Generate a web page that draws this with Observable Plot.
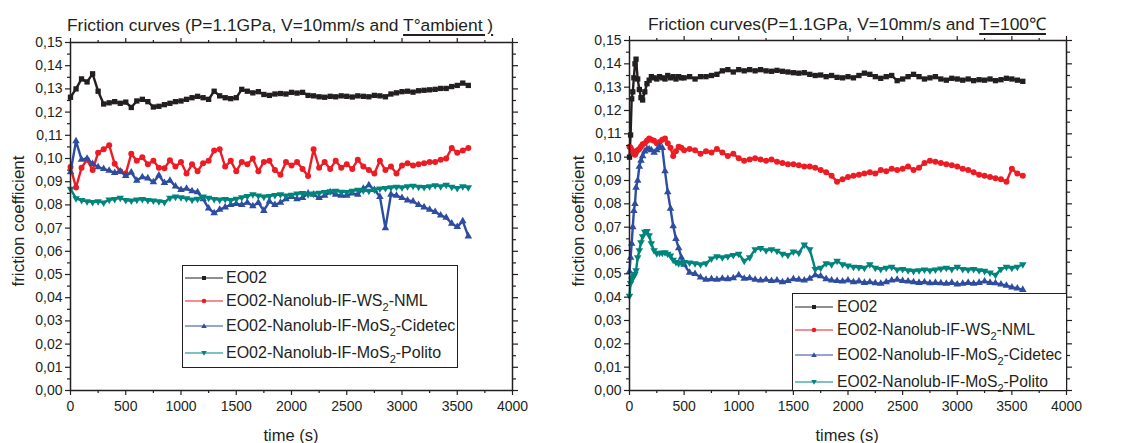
<!DOCTYPE html>
<html>
<head>
<meta charset="utf-8">
<script src="https://cdn.jsdelivr.net/npm/d3@7"></script>
<script src="https://cdn.jsdelivr.net/npm/@observablehq/plot@0.6"></script>
<style>
  html, body { margin: 0; padding: 0; background: #fff; }
  #root { position: relative; width: 1127px; height: 443px; overflow: hidden; font-family: 'Liberation Sans', Arial, sans-serif; color: #231f20; }
  .abs { position: absolute; white-space: nowrap; }
  .title { font-size: 17.4px; line-height: 20px; }
  .title u { text-decoration: underline; text-decoration-thickness: 1.5px; text-underline-offset: 3px; }
  .ylab { font-size: 17px; transform: rotate(-90deg); transform-origin: center center; }
  .xlab { font-size: 16.5px; }
  .legend { background: #fff; border: 1px solid #231f20; box-sizing: border-box; font-size: 16px; }
  .row { position: absolute; left: 0; display: flex; align-items: center; height: 20px; white-space: nowrap; }
  .row span { white-space: nowrap; }
  .row svg { display: block; flex: none; }
  .row sub { font-size: 11px; vertical-align: -5px; line-height: 0; }
</style>
</head>
<body>
<div id="root"></div>
<script>
// ---------- data ----------
const seriesNames = ["EO02", "EO02-Nanolub-IF-WS2-NML", "EO02-Nanolub-IF-MoS2-Cidetec", "EO02-Nanolub-IF-MoS2-Polito"];
const seriesColors = ["#231f20", "#ed1c24", "#2e4da0", "#00857d"];

const xTicks = [0, 500, 1000, 1500, 2000, 2500, 3000, 3500, 4000];
const xMinor = [250, 750, 1250, 1750, 2250, 2750, 3250, 3750];
const yTicks = [0, 0.01, 0.02, 0.03, 0.04, 0.05, 0.06, 0.07, 0.08, 0.09, 0.10, 0.11, 0.12, 0.13, 0.14, 0.15];
const yMinor = [0.005, 0.015, 0.025, 0.035, 0.045, 0.055, 0.065, 0.075, 0.085, 0.095, 0.105, 0.115, 0.125, 0.135, 0.145];

// Left panel (T ambient)
const timeL = [0,50,100,150,200,250,300,350,400,450,
  500,550,600,650,700,750,800,850,900,950,
  1000,1050,1100,1150,1200,1250,1300,1350,1400,1450,
  1500,1550,1600,1650,1700,1750,1800,1850,1900,1950,
  2000,2050,2100,2150,2200,2250,2300,2350,2400,2450,
  2500,2550,2600,2650,2700,2750,2800,2850,2900,2950,
  3000,3050,3100,3150,3200,3250,3300,3350,3400,3450,
  3500,3550,3600];
const blackL = [0.1264,0.1300,0.1343,0.1330,0.1365,0.1290,0.1235,0.1240,0.1245,0.1238,
  0.1243,0.1220,0.1248,0.1255,0.1245,0.1222,0.1225,0.1232,0.1238,0.1245,
  0.1248,0.1255,0.1262,0.1268,0.1262,0.1255,0.1290,0.1270,0.1262,0.1258,
  0.1262,0.1298,0.1290,0.1283,0.1288,0.1276,0.1272,0.1278,0.1280,0.1278,
  0.1285,0.1282,0.1285,0.1272,0.1270,0.1266,0.1264,0.1268,0.1266,0.1270,
  0.1268,0.1265,0.1270,0.1268,0.1266,0.1272,0.1270,0.1266,0.1278,0.1283,
  0.1288,0.1290,0.1286,0.1292,0.1294,0.1296,0.1298,0.1302,0.1302,0.1310,
  0.1315,0.1325,0.1315];
const redL = [0.0963,0.0875,0.0960,0.0995,0.0950,0.1025,0.1040,0.1057,0.0977,0.0945,
  0.0935,0.1020,0.0990,0.1005,0.0975,0.0990,0.0960,0.0958,0.0992,0.0965,
  0.0985,0.0935,0.0975,0.0945,0.0980,0.0990,0.1035,0.1040,0.0965,0.0990,
  0.0945,0.0985,0.0975,0.1000,0.0945,0.0985,0.0990,0.0950,0.0930,0.0985,
  0.0970,0.0985,0.0955,0.0925,0.1040,0.0960,0.0985,0.0955,0.0990,0.0960,
  0.0975,0.0955,0.0995,0.0965,0.0950,0.0935,0.0990,0.0950,0.0965,0.0935,
  0.0970,0.0980,0.0970,0.0975,0.0980,0.0985,0.0985,0.0995,0.1000,0.1045,
  0.1025,0.1035,0.1045];
const blueL = [0.0942,0.1075,0.0995,0.1000,0.0977,0.0963,0.0955,0.0948,0.0938,0.0945,
  0.0925,0.0940,0.0905,0.0920,0.0915,0.0898,0.0927,0.0895,0.0905,0.0880,
  0.0865,0.0870,0.0860,0.0855,0.0825,0.0785,0.0765,0.0780,0.0790,0.0800,
  0.0805,0.0800,0.0810,0.0795,0.0810,0.0775,0.0815,0.0800,0.0810,0.0825,
  0.0835,0.0825,0.0830,0.0850,0.0845,0.0830,0.0840,0.0855,0.0845,0.0840,
  0.0840,0.0850,0.0845,0.0870,0.0885,0.0865,0.0835,0.0700,0.0845,0.0840,
  0.0830,0.0820,0.0815,0.0800,0.0790,0.0780,0.0770,0.0755,0.0745,0.0720,
  0.0705,0.0730,0.0665];
const tealL = [0.0869,0.0828,0.0820,0.0815,0.0812,0.0815,0.0810,0.0822,0.0825,0.0830,
  0.0820,0.0818,0.0822,0.0825,0.0820,0.0818,0.0815,0.0812,0.0830,0.0835,
  0.0832,0.0828,0.0822,0.0826,0.0835,0.0830,0.0825,0.0822,0.0825,0.0820,
  0.0826,0.0832,0.0838,0.0845,0.0840,0.0835,0.0838,0.0842,0.0845,0.0840,
  0.0843,0.0848,0.0850,0.0845,0.0848,0.0852,0.0855,0.0858,0.0860,0.0856,
  0.0855,0.0860,0.0865,0.0862,0.0860,0.0866,0.0870,0.0872,0.0875,0.0878,
  0.0875,0.0880,0.0882,0.0878,0.0876,0.0880,0.0884,0.0880,0.0886,0.0878,
  0.0872,0.0880,0.0875];

// Right panel (T = 100 °C)
const timeR = [0,10,20,30,40,50,60,75,90,105,
  120,140,160,180,200,225,250,275,300,325,
  350,375,400,425,450,475,500,550,600,650,
  700,750,800,850,900,950,1000,1050,1100,1150,
  1200,1250,1300,1350,1400,1450,1500,1550,1600,1650,
  1700,1750,1800,1850,1900,1950,2000,2050,2100,2150,
  2200,2250,2300,2350,2400,2450,2500,2550,2600,2650,
  2700,2750,2800,2850,2900,2950,3000,3050,3100,3150,
  3200,3250,3300,3350,3400,3450,3500,3550,3600];
const blackR = [0.1000,0.1095,0.1250,0.1280,0.1340,0.1400,0.1420,0.1335,0.1290,0.1255,
  0.1245,0.1280,0.1315,0.1330,0.1345,0.1340,0.1335,0.1345,0.1340,0.1335,
  0.1350,0.1340,0.1345,0.1335,0.1345,0.1340,0.1340,0.1345,0.1335,0.1345,
  0.1345,0.1350,0.1355,0.1370,0.1375,0.1365,0.1375,0.1370,0.1375,0.1370,
  0.1375,0.1370,0.1368,0.1372,0.1368,0.1365,0.1362,0.1360,0.1362,0.1355,
  0.1350,0.1352,0.1345,0.1350,0.1342,0.1340,0.1345,0.1340,0.1350,0.1360,
  0.1355,0.1345,0.1338,0.1345,0.1350,0.1328,0.1335,0.1345,0.1355,0.1345,
  0.1335,0.1340,0.1345,0.1335,0.1330,0.1338,0.1335,0.1330,0.1335,0.1328,
  0.1332,0.1330,0.1335,0.1328,0.1332,0.1338,0.1335,0.1330,0.1325];
const redR = [0.1045,0.1040,0.1030,0.1025,0.1015,0.1010,0.1020,0.1030,0.1035,0.1045,
  0.1055,0.1060,0.1070,0.1080,0.1075,0.1070,0.1060,0.1065,0.1075,0.1080,
  0.1060,0.1040,0.1005,0.1025,0.1045,0.1040,0.1030,0.1035,0.1030,0.1015,
  0.1025,0.1020,0.1035,0.1020,0.1005,0.1015,0.0995,0.0985,0.0990,0.0995,
  0.0990,0.0985,0.0990,0.0980,0.0975,0.0970,0.0970,0.0965,0.0960,0.0960,
  0.0955,0.0945,0.0935,0.0920,0.0895,0.0905,0.0915,0.0920,0.0925,0.0930,
  0.0935,0.0930,0.0945,0.0940,0.0950,0.0945,0.0950,0.0960,0.0945,0.0955,
  0.0975,0.0985,0.0980,0.0975,0.0970,0.0965,0.0960,0.0950,0.0945,0.0935,
  0.0925,0.0920,0.0915,0.0910,0.0905,0.0895,0.0950,0.0930,0.0920];
const blueR = [0.0510,0.0570,0.0630,0.0700,0.0770,0.0800,0.0870,0.0900,0.0960,0.0985,
  0.1005,0.1025,0.1035,0.1035,0.1030,0.1020,0.1030,0.1045,0.1040,0.0940,
  0.0850,0.0780,0.0705,0.0650,0.0610,0.0570,0.0540,0.0505,0.0500,0.0485,
  0.0475,0.0478,0.0475,0.0480,0.0478,0.0482,0.0495,0.0480,0.0482,0.0475,
  0.0472,0.0475,0.0470,0.0472,0.0465,0.0470,0.0478,0.0475,0.0472,0.0480,
  0.0495,0.0490,0.0478,0.0472,0.0470,0.0468,0.0472,0.0465,0.0468,0.0462,
  0.0465,0.0460,0.0458,0.0465,0.0472,0.0475,0.0470,0.0468,0.0465,0.0462,
  0.0465,0.0460,0.0462,0.0460,0.0458,0.0462,0.0455,0.0458,0.0462,0.0458,
  0.0462,0.0468,0.0462,0.0460,0.0455,0.0450,0.0442,0.0438,0.0432];
const tealR = [0.0405,0.0460,0.0475,0.0485,0.0490,0.0500,0.0515,0.0570,0.0600,0.0635,
  0.0660,0.0680,0.0683,0.0665,0.0630,0.0600,0.0588,0.0590,0.0590,0.0592,
  0.0585,0.0578,0.0560,0.0550,0.0545,0.0548,0.0550,0.0548,0.0545,0.0540,
  0.0545,0.0565,0.0575,0.0570,0.0575,0.0580,0.0585,0.0555,0.0570,0.0605,
  0.0610,0.0600,0.0605,0.0598,0.0585,0.0580,0.0595,0.0590,0.0625,0.0605,
  0.0520,0.0525,0.0545,0.0540,0.0555,0.0540,0.0535,0.0530,0.0528,0.0525,
  0.0540,0.0525,0.0520,0.0525,0.0530,0.0518,0.0520,0.0515,0.0512,0.0515,
  0.0518,0.0515,0.0518,0.0522,0.0525,0.0520,0.0530,0.0520,0.0518,0.0520,
  0.0515,0.0512,0.0505,0.0495,0.0520,0.0530,0.0525,0.0530,0.0540];

// ---------- rendering ----------
const root = document.getElementById("root");
const errs = [];
function rows(times, vals, k, tag) {
  if (times.length !== vals.length) errs.push(tag + " " + times.length + "/" + vals.length);
  return times.map((t, i) => ({t, v: vals[i], k}));
}
const triangleDown = {
  draw(context, size) {
    const h = Math.sqrt(size * 4 / Math.sqrt(3)); // side length
    const r = h / Math.sqrt(3);
    context.moveTo(0, r);
    context.lineTo(h / 2, -r / 2);
    context.lineTo(-h / 2, -r / 2);
    context.closePath();
  }
};
const symbols = ["square", "circle", "triangle", triangleDown];
const symR = [3.0, 3.0, 2.8, 2.8];
const fmt = d => d3.format(".2f")(d).replace(".", ",");
const blank = () => "";

function panel(data, m) {
  const marks = [];
  for (let k = 0; k < 4; k++) {
    const d = data[k];
    marks.push(Plot.line(d, {x: "t", y: "v", stroke: seriesColors[k], strokeWidth: 2.4, strokeLinejoin: "round"}));
    marks.push(Plot.dot(d, {x: "t", y: "v", fill: seriesColors[k], stroke: "none", r: symR[k], symbol: symbols[k]}));
  }
  const ax = {stroke: "#231f20", strokeWidth: 1.2};
  return Plot.plot({
    width: m.width, height: 443,
    marginLeft: m.left, marginRight: m.right, marginTop: m.top, marginBottom: m.bottom,
    style: {fontFamily: "'Liberation Sans', Arial, sans-serif", fontSize: "14px", color: "#231f20", background: "transparent", overflow: "visible"},
    x: {domain: [0, 4000]},
    y: {domain: [0, 0.15]},
    marks: [
      ...marks,
      Plot.axisX({ticks: xTicks, tickSize: 5, tickPadding: 6, tickFormat: d => String(d), label: null, ...ax}),
      Plot.axisX({ticks: xMinor, tickSize: 3, tickFormat: blank, label: null, ...ax}),
      Plot.axisX({anchor: "top", ticks: xTicks, tickSize: 5, tickFormat: blank, label: null, ...ax}),
      Plot.axisX({anchor: "top", ticks: xMinor, tickSize: 3, tickFormat: blank, label: null, ...ax}),
      Plot.axisY({ticks: yTicks, tickSize: 5, tickPadding: 3, tickFormat: fmt, label: null, ...ax}),
      Plot.axisY({ticks: yMinor, tickSize: 3, tickFormat: blank, label: null, ...ax}),
      Plot.axisY({anchor: "right", ticks: yTicks, tickSize: 5, tickFormat: blank, label: null, ...ax}),
      Plot.axisY({anchor: "right", ticks: yMinor, tickSize: 3, tickFormat: blank, label: null, ...ax}),
      Plot.frame({stroke: "#231f20", strokeWidth: 1.5})
    ]
  });
}

function place(el, left, top) {
  el.style.position = "absolute";
  el.style.left = left + "px";
  el.style.top = top + "px";
  root.appendChild(el);
  return el;
}

const leftData = [rows(timeL, blackL, 0, "bL"), rows(timeL, redL, 1, "rL"), rows(timeL, blueL, 2, "uL"), rows(timeL, tealL, 3, "tL")];
const rightData = [rows(timeR, blackR, 0, "bR"), rows(timeR, redR, 1, "rR"), rows(timeR, blueR, 2, "uR"), rows(timeR, tealR, 3, "tR")];

place(panel(leftData, {width: 560, left: 70, right: 48, top: 42, bottom: 53}), 0, 0);
place(panel(rightData, {width: 567, left: 69, right: 61, top: 40, bottom: 53}), 560, 0);

function html(s, cls, left, top) {
  const d = document.createElement("div");
  d.className = "abs " + cls;
  d.innerHTML = s;
  return place(d, left, top);
}
// titles
html("Friction curves (P=1.1GPa, V=10mm/s and <u>T°ambient )</u>", "title", 67, 15);
html("Friction curves(P=1.1GPa, V=10mm/s and <u>T=100℃</u>", "title", 648, 14);
// axis labels
const yl1 = html("friction coefficient", "ylab", 0, 0);
yl1.style.left = (18 - yl1.offsetWidth / 2) + "px"; yl1.style.top = (221 - yl1.offsetHeight / 2) + "px";
const yl2 = html("friction coefficient", "ylab", 0, 0);
yl2.style.left = (578 - yl2.offsetWidth / 2) + "px"; yl2.style.top = (221 - yl2.offsetHeight / 2) + "px";
const xl1 = html("time (s)", "xlab", 0, 0);
xl1.style.left = (291 - xl1.offsetWidth / 2) + "px"; xl1.style.top = (435 - xl1.offsetHeight / 2) + "px";
const xl2 = html("times (s)", "xlab", 0, 0);
xl2.style.left = (847 - xl2.offsetWidth / 2) + "px"; xl2.style.top = (435 - xl2.offsetHeight / 2) + "px";

// legends
const legendLabels = ["EO02", "EO02-Nanolub-IF-WS<sub>2</sub>-NML", "EO02-Nanolub-IF-MoS<sub>2</sub>-Cidetec", "EO02-Nanolub-IF-MoS<sub>2</sub>-Polito"];
function swatch(k) {
  const w = 38, h = 12;
  const sym = symbols[k];
  let shape;
  const c = seriesColors[k];
  if (sym === "square") shape = `<rect x="${w/2-2}" y="${h/2-2}" width="4" height="4" fill="${c}"/>`;
  else if (sym === "circle") shape = `<circle cx="${w/2}" cy="${h/2}" r="2.3" fill="${c}"/>`;
  else if (sym === "triangle") shape = `<path d="M${w/2},${h/2-2.8}L${w/2+2.8},${h/2+2}L${w/2-2.8},${h/2+2}Z" fill="${c}"/>`;
  else shape = `<path d="M${w/2},${h/2+2.8}L${w/2+2.8},${h/2-2}L${w/2-2.8},${h/2-2}Z" fill="${c}"/>`;
  return `<svg width="${w}" height="${h}"><line x1="0" x2="${w}" y1="${h/2}" y2="${h/2}" stroke="${c}" stroke-width="1.2"/>${shape}</svg>`;
}
function legend(left, top, width, height, rowYs, swLeft, textGap, fs) {
  const box = document.createElement("div");
  box.className = "legend";
  box.style.width = width + "px";
  box.style.height = height + "px";
  box.style.fontSize = fs + "px";
  place(box, left, top);
  rowYs.forEach((y, k) => {
    const r = document.createElement("div");
    r.className = "row";
    r.style.top = (y - top - 10) + "px";
    r.style.left = (swLeft - left - 1) + "px";
    r.innerHTML = swatch(k) + `<span style="margin-left:${textGap}px">${legendLabels[k]}</span>`;
    box.appendChild(r);
  });
}
legend(182, 265, 276, 103, [277, 300, 325, 352], 185, 3, 16);
legend(792, 293, 275, 98, [306, 329, 354, 381], 795, 4, 15.7);

if (errs.length) html("LEN MISMATCH: " + errs.join(", "), "title", 300, 200).style.color = "magenta";
</script>
</body>
</html>
